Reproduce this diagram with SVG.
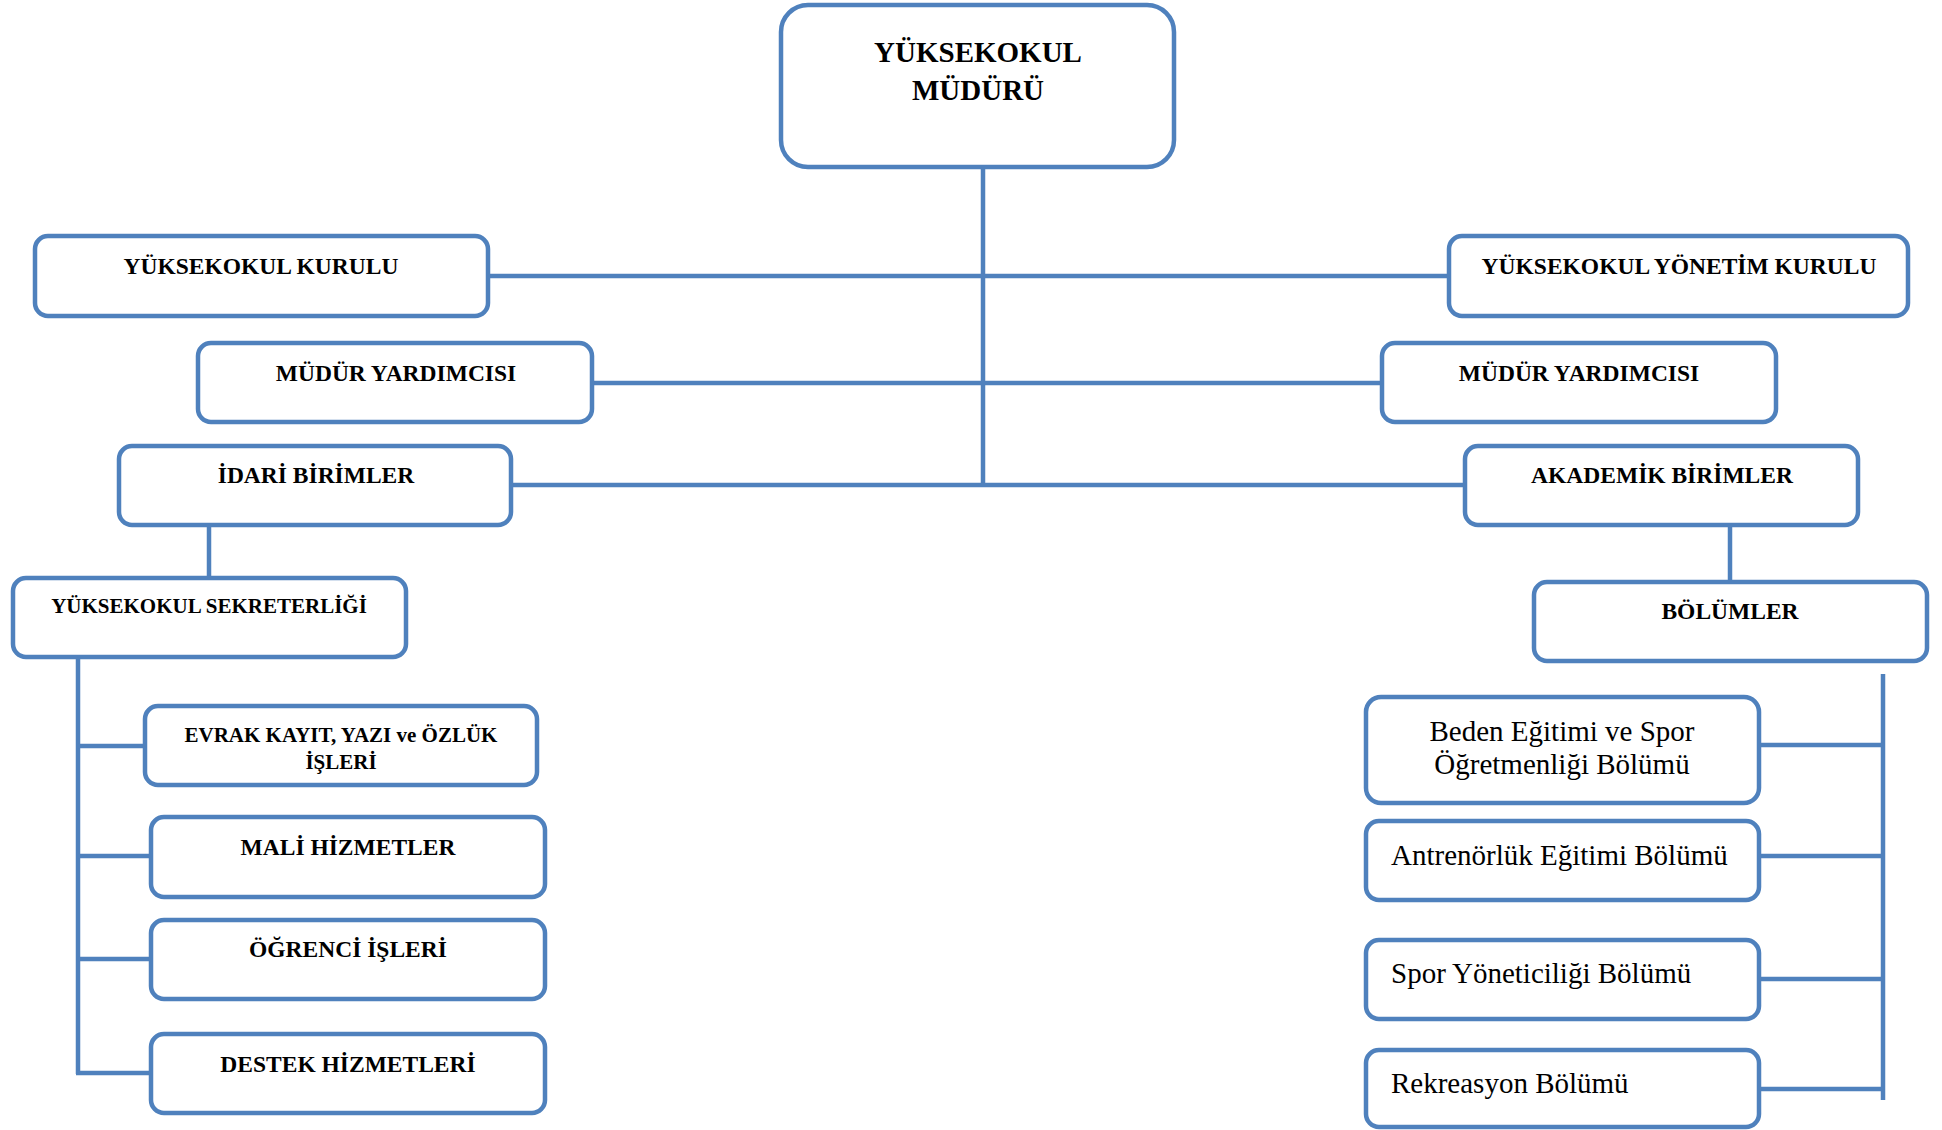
<svg xmlns="http://www.w3.org/2000/svg" width="1942" height="1130" viewBox="0 0 1942 1130">
<style>
.box{fill:#fff;stroke:#4F81BD;stroke-width:4.5}
.ln{stroke:#4F81BD;stroke-width:4.5;fill:none}
.b{font-family:"Liberation Serif","Times New Roman",serif;font-weight:bold;fill:#000;text-anchor:middle}
.r{font-family:"Liberation Serif","Times New Roman",serif;fill:#000}
</style>
<rect width="1942" height="1130" fill="#fff"/>
<g id="connectors">
<path class="ln" d="M983 167 V486"/>
<path class="ln" d="M488 276 H1449"/>
<path class="ln" d="M592 383 H1382"/>
<path class="ln" d="M511 485 H1465"/>
<path class="ln" d="M209 525 V577"/>
<path class="ln" d="M1730 525 V581"/>
<path class="ln" d="M78 656 V1074"/>
<path class="ln" d="M78 746 H145 M78 856 H151 M78 959 H151 M76 1073 H151"/>
<path class="ln" d="M1883 674 V1100"/>
<path class="ln" d="M1759 745 H1883 M1759 856 H1883 M1759 979 H1883 M1759 1089 H1883"/>
</g>
<g id="mudur"><rect class="box" x="781" y="5" width="393" height="162" rx="27"/>
<text class="b" x="978" y="62" font-size="29">YÜKSEKOKUL</text><text class="b" x="978" y="100" font-size="29">MÜDÜRÜ</text></g>
<g id="kurul"><rect class="box" x="35" y="236" width="453" height="80" rx="13"/><text class="b" x="261" y="274" font-size="23.5">YÜKSEKOKUL KURULU</text></g>
<g id="yonetim"><rect class="box" x="1449" y="236" width="459" height="80" rx="13"/><text class="b" x="1679" y="274" font-size="23.5">YÜKSEKOKUL YÖNETİM KURULU</text></g>
<g id="myard1"><rect class="box" x="198" y="343" width="394" height="79" rx="13"/><text class="b" x="396" y="381" font-size="23.5">MÜDÜR YARDIMCISI</text></g>
<g id="myard2"><rect class="box" x="1382" y="343" width="394" height="79" rx="13"/><text class="b" x="1579" y="381" font-size="23.5">MÜDÜR YARDIMCISI</text></g>
<g id="idari"><rect class="box" x="119" y="446" width="392" height="79" rx="13"/><text class="b" x="316" y="483" font-size="23.5">İDARİ BİRİMLER</text></g>
<g id="akademik"><rect class="box" x="1465" y="446" width="393" height="79" rx="13"/><text class="b" x="1662" y="483" font-size="23.5">AKADEMİK BİRİMLER</text></g>
<g id="sekreter"><rect class="box" x="13" y="578" width="393" height="79" rx="13"/><text class="b" x="209" y="613" font-size="21">YÜKSEKOKUL SEKRETERLİĞİ</text></g>
<g id="evrak"><rect class="box" x="145" y="706" width="392" height="79" rx="13"/><text class="b" x="341" y="742" font-size="21">EVRAK KAYIT, YAZI ve ÖZLÜK</text><text class="b" x="341" y="769" font-size="21">İŞLERİ</text></g>
<g id="mali"><rect class="box" x="151" y="817" width="394" height="80" rx="13"/><text class="b" x="348" y="855" font-size="23.5">MALİ HİZMETLER</text></g>
<g id="ogrenci"><rect class="box" x="151" y="920" width="394" height="79" rx="13"/><text class="b" x="348" y="957" font-size="23.5">ÖĞRENCİ İŞLERİ</text></g>
<g id="destek"><rect class="box" x="151" y="1034" width="394" height="79" rx="13"/><text class="b" x="348" y="1072" font-size="23.5">DESTEK HİZMETLERİ</text></g>
<g id="bolumler"><rect class="box" x="1534" y="582" width="393" height="79" rx="13"/><text class="b" x="1730" y="619" font-size="23.5">BÖLÜMLER</text></g>
<g id="beden"><rect class="box" x="1366" y="697" width="393" height="106" rx="15"/><text class="r" x="1562" y="741" font-size="29" text-anchor="middle">Beden Eğitimi ve Spor</text><text class="r" x="1562" y="774" font-size="29" text-anchor="middle">Öğretmenliği Bölümü</text></g>
<g id="antrenor"><rect class="box" x="1366" y="821" width="393" height="79" rx="13"/><text class="r" x="1391" y="865" font-size="29">Antrenörlük Eğitimi Bölümü</text></g>
<g id="sporyon"><rect class="box" x="1366" y="940" width="393" height="79" rx="13"/><text class="r" x="1391" y="983" font-size="29">Spor Yöneticiliği Bölümü</text></g>
<g id="rekreasyon"><rect class="box" x="1366" y="1050" width="393" height="77" rx="13"/><text class="r" x="1391" y="1093" font-size="29">Rekreasyon Bölümü</text></g>
</svg>
